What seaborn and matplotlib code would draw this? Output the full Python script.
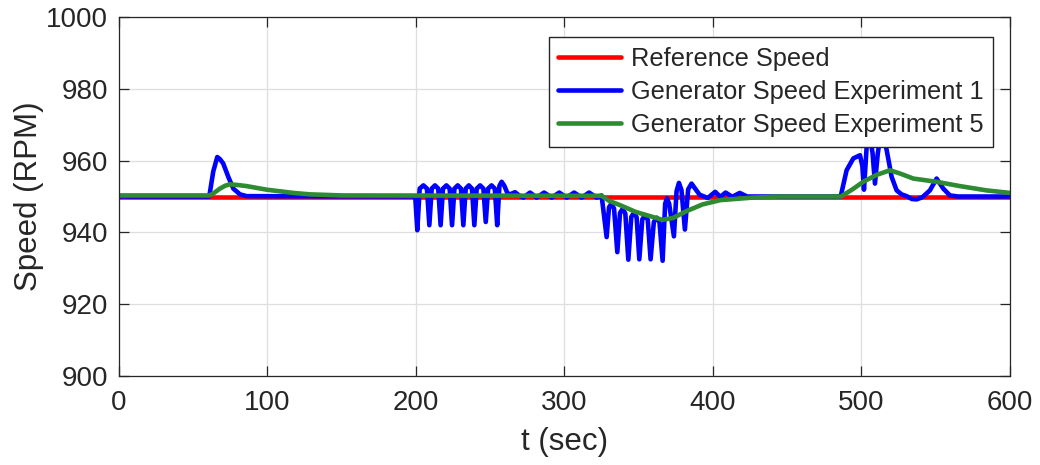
import matplotlib
matplotlib.use("Agg")
import matplotlib.pyplot as plt
import numpy as np
import pandas as pd
import seaborn as sns

# ---------------- data ----------------
ref_t = [0, 600]
ref_v = [950.0, 950.0]

exp1_t = [0, 60.8, 63.5, 66.2, 68.0, 70.2, 73.6, 77.0, 81.5, 86.0,
          199.5, 200.9,
          202.5, 205.0, 207.4, 209.0,
          210.6, 212.8, 215.0, 216.6,
          218.2, 220.5, 222.7, 224.3,
          225.9, 228.1, 230.3, 231.9,
          233.5, 235.6, 237.7, 239.3,
          240.9, 243.2, 245.4, 247.0,
          248.6, 250.9, 253.1, 254.7,
          256.2, 257.7, 259.5, 261.5, 263.3, 266.7, 269.5, 272.3, 276.8,
          281.3, 286.3, 291.4, 296.5, 301.5, 306.5, 311.6, 316.6, 321.7,
          325.0, 328.4,
          330.0, 331.6, 333.4, 335.6,
          337.4, 339.2, 341.0, 343.0,
          345.0, 346.8, 348.6, 350.4,
          352.4, 354.2, 356.1, 358.0,
          360.2, 362.1, 364.0, 366.1,
          367.8, 369.0, 370.5, 373.7,
          375.5, 377.1, 378.8, 381.1,
          383.3, 385.6, 388.0, 391.0, 396.5, 401.5, 405.0, 408.5, 413.0,
          418.0, 423.0, 486.0,
          490.0, 494.5, 499.0, 500.6, 501.7, 503.5, 505.5, 507.5, 509.1,
          511.0, 513.0, 515.0, 517.0, 520.3, 523.7, 527.0, 530.4, 534.0,
          537.2, 541.0, 546.1, 550.6, 555.1, 559.6, 565.0, 600.0]
exp1_v = [950.0, 950.0, 957.0, 961.0, 960.4, 959.2, 955.5, 952.2, 950.6, 950.1,
          950.0, 940.6,
          952.2, 953.1, 952.2, 942.0,
          952.2, 953.1, 952.2, 942.0,
          952.2, 953.1, 952.2, 942.0,
          952.2, 953.1, 952.2, 942.0,
          952.2, 953.1, 952.2, 942.0,
          952.2, 953.1, 952.2, 942.9,
          952.2, 953.1, 952.2, 942.0,
          953.0, 954.1, 953.0, 951.0, 950.6, 951.2, 950.3, 949.7, 951.1,
          949.7, 951.1, 949.7, 951.1, 949.7, 951.1, 949.7, 951.1, 949.7,
          950.3, 938.7,
          947.0, 948.0, 946.6, 934.5,
          945.4, 946.6, 945.2, 932.4,
          944.3, 945.5, 944.2, 932.5,
          943.6, 944.8, 943.5, 932.5,
          942.9, 944.1, 942.8, 932.1,
          948.0, 949.5, 948.0, 938.9,
          951.5, 953.8, 951.8, 940.8,
          952.0, 953.6, 952.2, 950.5, 949.6, 951.3, 949.9, 951.1, 949.9,
          951.0, 950.0, 950.0,
          957.3, 960.6, 961.5, 958.5, 951.9, 963.8, 967.5, 962.0, 953.6,
          962.0, 967.5, 966.5, 962.9, 955.5, 951.7, 950.6, 950.1, 949.3,
          949.2, 949.8, 951.7, 955.0, 952.2, 950.3, 950.0, 950.0]

exp5_t = [0, 61.0, 64.0, 68.0, 71.5, 74.7, 80.0, 86.0, 99.5, 117.4, 128.6,
          150.0, 325.0, 330.0, 338.0, 348.0, 357.0, 366.0, 373.0, 382.0,
          393.0, 405.0, 427.0, 445.0, 486.2, 494.0, 501.2, 510.0, 519.2,
          526.0, 534.9, 550.6, 566.3, 584.3, 600.0]
exp5_v = [950.3, 950.3, 951.0, 952.2, 953.0, 953.4, 953.2, 952.9, 951.9, 951.0,
          950.6, 950.3, 950.2, 948.8, 947.5, 945.7, 944.6, 943.5, 944.0, 945.9,
          947.8, 949.0, 949.7, 950.0, 950.0, 952.0, 954.1, 956.0, 957.3,
          956.4, 955.0, 954.1, 952.9, 951.7, 951.0]

series_names = ["Reference Speed",
                "Generator Speed Experiment 1",
                "Generator Speed Experiment 5"]
x_ticks = [0, 100, 200, 300, 400, 500, 600]
y_ticks = [900, 920, 940, 960, 980, 1000]

# ---------------- build table ----------------
df = pd.concat([
    pd.DataFrame({"t": ref_t, "v": ref_v, "series": series_names[0]}),
    pd.DataFrame({"t": exp1_t, "v": exp1_v, "series": series_names[1]}),
    pd.DataFrame({"t": exp5_t, "v": exp5_v, "series": series_names[2]}),
], ignore_index=True)

palette = {series_names[0]: "#ff0000",
           series_names[1]: "#0000ff",
           series_names[2]: "#2e8b32"}

sns.set_theme(style="whitegrid")
plt.rcParams["font.family"] = ["Liberation Sans", "DejaVu Sans"]

fig = plt.figure(figsize=(10.4, 4.65), dpi=100)
ax = fig.add_axes([0.1144, 0.1914, 0.8567, 0.7720])

LW = 3.3
sns.lineplot(data=df, x="t", y="v", hue="series", hue_order=series_names,
             palette=palette, estimator=None, sort=False, linewidth=LW,
             ax=ax)

ax.set_xlim(0, 600)
ax.set_ylim(900, 1000)
ax.set_xticks(x_ticks)
ax.set_yticks(y_ticks)
ax.set_facecolor("white")
ax.grid(True, color="#dedede", linewidth=0.9)
for s in ax.spines.values():
    s.set_visible(True)
    s.set_color("#262626")
    s.set_linewidth(0.9)
ax.tick_params(axis="both", direction="in", length=7, width=0.9,
               top=True, right=True, bottom=True, left=True,
               labelsize=20, labelcolor="#262626", color="#262626")
ax.tick_params(axis="x", pad=10)
ax.tick_params(axis="y", pad=8)

ax.set_xlabel("t (sec)", fontsize=22.5, color="#262626")
ax.set_ylabel("Speed (RPM)", fontsize=22.5, color="#262626")
ax.xaxis.set_label_coords(0.5, -0.142)
ax.yaxis.set_label_coords(-0.084, 0.5)

handles, labels = ax.get_legend_handles_labels()
leg = ax.legend(handles, labels, loc="upper right",
                bbox_to_anchor=(0.981, 0.944), borderaxespad=0,
                fontsize=18.3, frameon=True, fancybox=False,
                edgecolor="#262626", framealpha=1, facecolor="white",
                handlelength=2.45, handletextpad=0.4, labelspacing=0.36,
                borderpad=0.38)
leg.get_frame().set_linewidth(1.0)
for line in leg.get_lines():
    line.set_linewidth(LW)

fig.savefig("out.png", dpi=100)
